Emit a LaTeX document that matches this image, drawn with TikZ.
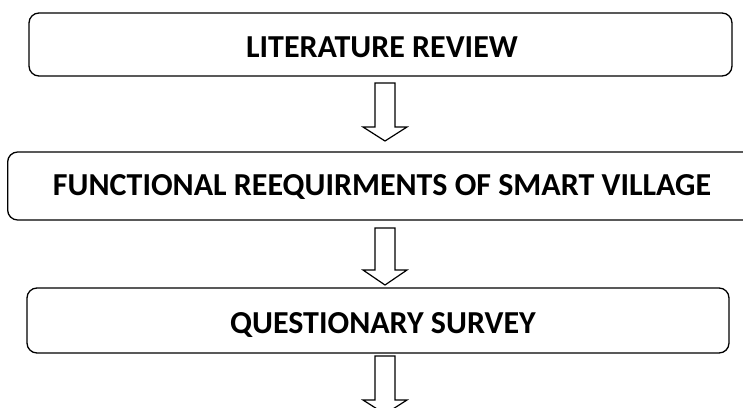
\documentclass[tikz,border=0pt]{standalone}
\usepackage{fontspec}
\setmainfont{Carlito}
\begin{document}
\begin{tikzpicture}[x=1pt,y=-1pt,
  box/.style={draw, line width=1.3pt, rounded corners=10pt, inner sep=0pt},
  lbl/.style={font=\bfseries\fontsize{32}{38}\selectfont, inner sep=0pt, anchor=base},
  hollow/.style={draw, line width=1.2pt, fill=white, line join=miter}]
\useasboundingbox (0,0) rectangle (743,407);
\clip (0,0) rectangle (743,407);
\node[box, minimum width=703pt, minimum height=63pt] (b1) at (380.5,44.5) {};
\node[lbl] (t1) at (382,57) {LITERATURE REVIEW};
\node[box, minimum width=760pt, minimum height=68pt, anchor=west] (b2) at (7,186) {};
\node[lbl] (t2) at (382,195) {FUNCTIONAL REEQUIRMENTS OF SMART VILLAGE};
\node[box, minimum width=702pt, minimum height=65pt] (b3) at (378,320.5) {};
\node[lbl] (t3) at (383,333) {QUESTIONARY SURVEY};
% hollow down arrows
\coordinate (a1) at (385,83);
\coordinate (a2) at (385,228);
\coordinate (a3) at (385,356);
\draw[hollow] (a1) ++(-10,0) -- ++(20,0) -- ++(0,44) -- ++(12,0) -- ++(-22,14) -- ++(-22,-14) -- ++(12,0) -- cycle;
\draw[hollow] (a2) ++(-10,0) -- ++(20,0) -- ++(0,42) -- ++(12,0) -- ++(-22,15) -- ++(-22,-15) -- ++(12,0) -- cycle;
\draw[hollow] (a3) ++(-10,0) -- ++(20,0) -- ++(0,44) -- ++(12,0) -- ++(-22,14) -- ++(-22,-14) -- ++(12,0) -- cycle;
\end{tikzpicture}
\end{document}
